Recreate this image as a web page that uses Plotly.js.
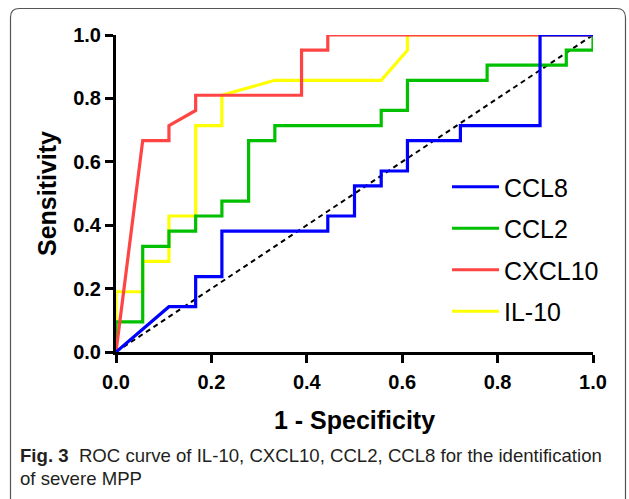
<!DOCTYPE html>
<html>
<head>
<meta charset="utf-8">
<script src="https://cdn.plot.ly/plotly-3.0.1.min.js"></script>
<style>
html,body{margin:0;padding:0;background:#fff;}
#chart{width:629px;height:499px;}
</style>
</head>
<body>
<div id="chart"></div>
<script>
// ROC curve vertices (1 - specificity, sensitivity)
const ccl8X   = [0, 0.111, 0.167, 0.167, 0.222, 0.222, 0.444, 0.444, 0.5, 0.5, 0.556, 0.556, 0.611, 0.611, 0.722, 0.722, 0.889, 0.889, 1];
const ccl8Y   = [0, 0.143, 0.143, 0.238, 0.238, 0.381, 0.381, 0.429, 0.429, 0.524, 0.524, 0.571, 0.571, 0.667, 0.667, 0.714, 0.714, 1, 1];

const ccl2X   = [0, 0, 0.056, 0.056, 0.111, 0.111, 0.167, 0.167, 0.222, 0.222, 0.278, 0.278, 0.333, 0.333, 0.556, 0.556, 0.611, 0.611, 0.778, 0.778, 0.944, 0.944, 1, 1];
const ccl2Y   = [0, 0.095, 0.095, 0.333, 0.333, 0.381, 0.381, 0.429, 0.429, 0.476, 0.476, 0.667, 0.667, 0.714, 0.714, 0.762, 0.762, 0.857, 0.857, 0.905, 0.905, 0.952, 0.952, 1];

const cxcl10X = [0, 0.056, 0.111, 0.111, 0.167, 0.167, 0.389, 0.389, 0.444, 0.444, 1];
const cxcl10Y = [0, 0.667, 0.667, 0.714, 0.762, 0.810, 0.810, 0.952, 0.952, 1, 1];

const il10X   = [0, 0, 0.056, 0.056, 0.111, 0.111, 0.167, 0.167, 0.222, 0.222, 0.333, 0.556, 0.611, 0.611, 1];
const il10Y   = [0, 0.190, 0.190, 0.286, 0.286, 0.429, 0.429, 0.714, 0.714, 0.810, 0.857, 0.857, 0.952, 1, 1];

const refX = [0, 1];
const refY = [0, 1];

const seriesNames = ["CCL8", "CCL2", "CXCL10", "IL-10"];
const tickVals = [0, 0.2, 0.4, 0.6, 0.8, 1.0];
const tickText = ["0.0", "0.2", "0.4", "0.6", "0.8", "1.0"];

const FONT = "Liberation Sans, Arial, sans-serif";

const traces = [
  {x: refX, y: refY, mode: "lines", showlegend: false, hoverinfo: "skip",
   line: {color: "#000", width: 2, dash: "5px,4px"}, cliponaxis: false},
  {x: il10X, y: il10Y, name: seriesNames[3], legendrank: 4, legendgroup: "d",
   mode: "lines", line: {color: "#FFFF00", width: 3.2}, cliponaxis: false},
  {x: ccl2X, y: ccl2Y, name: seriesNames[1], legendrank: 2, legendgroup: "b",
   mode: "lines", line: {color: "#00C000", width: 3.2}, cliponaxis: false},
  {x: cxcl10X, y: cxcl10Y, name: seriesNames[2], legendrank: 3, legendgroup: "c",
   mode: "lines", line: {color: "#FF4444", width: 3.2}, cliponaxis: false},
  {x: ccl8X, y: ccl8Y, name: seriesNames[0], legendrank: 1, legendgroup: "a",
   mode: "lines", line: {color: "#0000FF", width: 3.2}, cliponaxis: false}
];

// frame geometry in paper coordinates (plot area 116..593 x, 35..352 y)
function px2x(p){ return (p - 116) / 477; }
function py2y(p){ return (352 - p) / 317; }
const L = px2x(10.5), R = px2x(625.5), T = py2y(8.5), B = py2y(530);
const rx = 9 / 477, ry = 9 / 317;
const framePath = `M ${L},${B} L ${L},${T-ry} Q ${L},${T} ${L+rx},${T} L ${R-rx},${T} Q ${R},${T} ${R},${T-ry} L ${R},${B}`;

const layout = {
  width: 629, height: 499,
  margin: {l: 116, r: 36, t: 35, b: 147, pad: 0},
  paper_bgcolor: "#fff", plot_bgcolor: "#fff",
  font: {family: FONT, color: "#000"},
  showlegend: true,
  legend: {
    x: px2x(447), y: py2y(164), xanchor: "left", yanchor: "top",
    font: {family: FONT, size: 25, color: "#000"},
    bgcolor: "rgba(0,0,0,0)", borderwidth: 0,
    tracegroupgap: 6, itemwidth: 47, traceorder: "grouped"
  },
  xaxis: {
    range: [0, 1], tickvals: tickVals, ticktext: tickText,
    showgrid: false, zeroline: false, showline: true, linecolor: "#000", linewidth: 3,
    ticks: "outside", ticklen: 8, tickwidth: 3, tickcolor: "#000",
    ticklabelstandoff: 2,
    tickfont: {family: FONT, size: 20, weight: 700, color: "#000"},
    title: {text: "1 - Specificity", font: {family: FONT, size: 25, weight: 700, color: "#000"}, standoff: 20},
    fixedrange: true
  },
  yaxis: {
    range: [0, 1], tickvals: tickVals, ticktext: tickText,
    showgrid: false, zeroline: false, showline: true, linecolor: "#000", linewidth: 3,
    ticks: "outside", ticklen: 8, tickwidth: 3, tickcolor: "#000",
    tickfont: {family: FONT, size: 20, weight: 700, color: "#000"},
    title: {text: "Sensitivity", font: {family: FONT, size: 25, weight: 700, color: "#000"}, standoff: 10},
    fixedrange: true
  },
  shapes: [
    {type: "path", xref: "paper", yref: "paper", path: framePath,
     line: {color: "#555", width: 1.2}, fillcolor: "rgba(0,0,0,0)", layer: "below"}
  ],
  annotations: [
    {xref: "paper", yref: "paper", x: px2x(18), y: py2y(455), xanchor: "left", yanchor: "middle",
     showarrow: false, align: "left",
     text: "<b>Fig. 3</b>  ROC curve of IL-10, CXCL10, CCL2, CCL8 for the identification",
     font: {family: FONT, size: 18.6, color: "#231f20"}},
    {xref: "paper", yref: "paper", x: px2x(18), y: py2y(478), xanchor: "left", yanchor: "middle",
     showarrow: false, align: "left",
     text: "of severe MPP",
     font: {family: FONT, size: 18.6, color: "#231f20"}}
  ]
};

Plotly.newPlot("chart", traces, layout, {displayModeBar: false, staticPlot: true});
</script>
</body>
</html>
